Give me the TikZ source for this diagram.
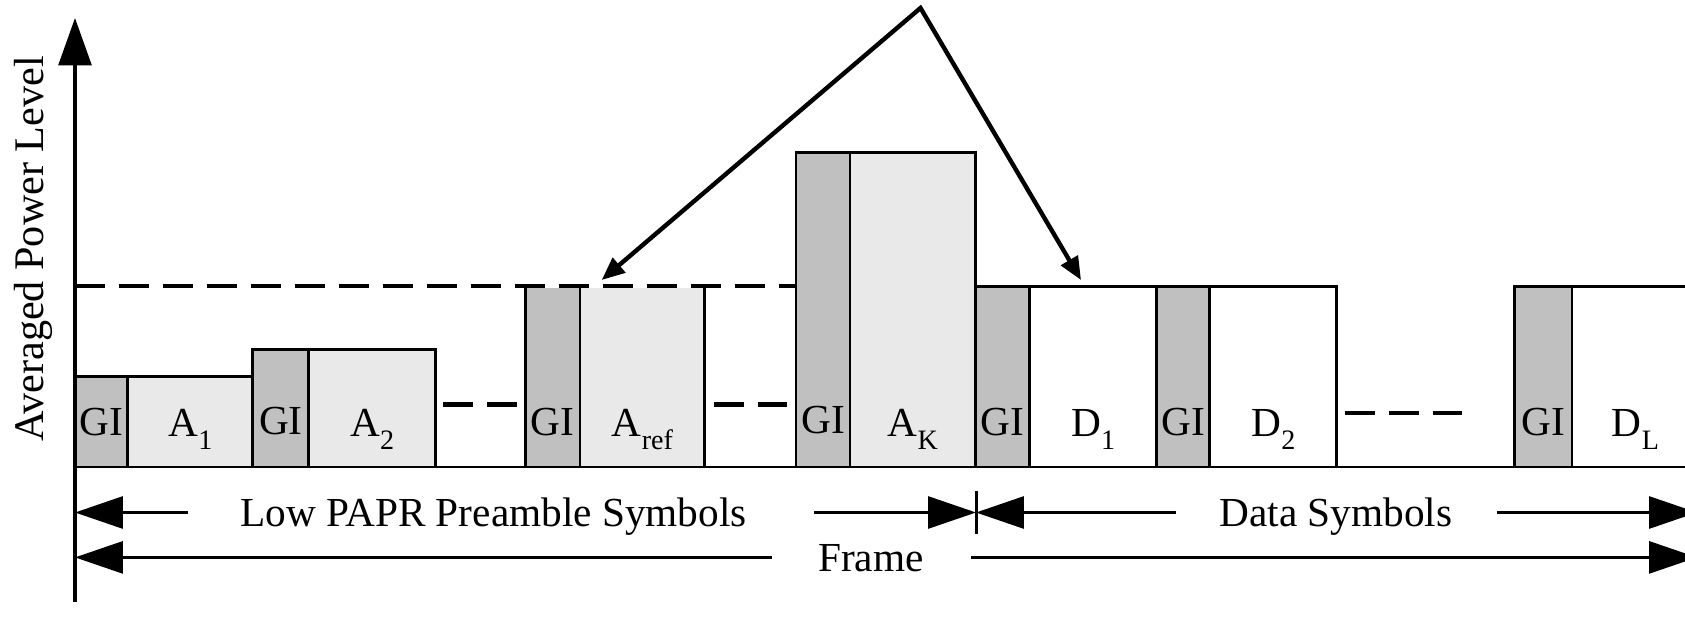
\documentclass[tikz,border=0pt]{standalone}
\usepackage{fontspec}
\setmainfont{Liberation Serif}
\usetikzlibrary{arrows.meta,calc}
\definecolor{GuardGray}{RGB}{192,192,192}
\definecolor{PreambleFill}{RGB}{233,233,233}
\newcommand{\symlbl}[2]{#1\raisebox{-7.5pt}{\fontsize{16}{19}\selectfont #2}}

\begin{document}
\begin{tikzpicture}[x=0.02cm,y=0.02cm,
    font=\fontsize{23.5}{28}\selectfont,
    blk/.style={draw,line width=1.7pt,anchor=south west,inner sep=0pt,outer sep=0pt,minimum height=#1},
    gi/.style={blk=#1,fill=GuardGray},
    pre/.style={blk=#1,fill=PreambleFill},
    dat/.style={blk=#1,fill=white},
    lbl/.style={anchor=base,inner sep=0pt},
    dimtext/.style={inner sep=0pt,text height=18pt,text depth=1.6pt},
    dimarrow/.style={line width=1.7pt,-{Triangle[length=0.96cm,width=0.64cm]}},
    gapdash/.style={line width=2.4pt,dash pattern=on 0.6cm off 0.28cm},
    callout/.style={line width=2.5pt,line join=miter,{Triangle[length=0.46cm,width=0.38cm]}-{Triangle[length=0.46cm,width=0.38cm]}}]
  \useasboundingbox (0,0) rectangle (1685,623);
  \clip (0,0) rectangle (1685,623);

  \node[gi=1.808cm,minimum width=1.06cm] (gi1) at (75,156) {};
  \node[pre=1.808cm,minimum width=2.5cm] (preA1) at (gi1.south east) {};
  \node[gi=2.348cm,minimum width=1.12cm] (gi2) at (preA1.south east) {};
  \node[pre=2.348cm,minimum width=2.53cm] (preA2) at (gi2.south east) {};
  \node[gi=3.62cm,minimum width=1.09cm] (gi3) at (525.5,156) {};
  \node[pre=3.62cm,minimum width=2.5cm] (preRef) at (gi3.south east) {};
  \node[gi=6.296cm,minimum width=1.08cm] (gi4) at (796,156) {};
  \node[pre=6.296cm,minimum width=2.52cm] (preK) at (gi4.south east) {};
  \node[gi=3.62cm,minimum width=1.07cm] (gi5) at (preK.south east) {};
  \node[dat=3.62cm,minimum width=2.55cm] (datD1) at (gi5.south east) {};
  \node[gi=3.62cm,minimum width=1.06cm] (gi6) at (datD1.south east) {};
  \node[dat=3.62cm,minimum width=2.54cm] (datD2) at (gi6.south east) {};
  \node[gi=3.62cm,minimum width=1.16cm] (gi7) at (1514,156) {};
  \node[dat=3.62cm,minimum width=2.54cm] (datDL) at (gi7.south east) {};

  \draw[line width=1.7pt] (gi1.south west) -- (datDL.south east);

  \coordinate (highL) at (75,337);
  \draw[white,line width=2.8pt] (gi3.north west) -- (preRef.north east);
  \draw[gapdash] (highL) -- (gi4.north west |- highL);
  \draw[gapdash] ($(preA2.south east)+(7.5,62.6)$) -- ($(gi3.south west)+(-8.5,62.6)$);
  \draw[gapdash] ($(preRef.south east)+(9,62.6)$) -- ($(gi4.south west)+(-9,62.6)$);
  \draw[gapdash] ($(datD2.south east)+(8,53.8)$) -- ($(gi7.south west)+(-52,53.8)$);

  \node[lbl] (tGI1) at ($(gi1.south)+(0,32)$) {GI};
  \node[lbl] (tA1) at ($(preA1.south)+(0,31)$) {\symlbl{A}{1}};
  \node[lbl] (tGI2) at ($(gi2.south)+(0,33)$) {GI};
  \node[lbl] (tA2) at ($(preA2.south)+(0,31)$) {\symlbl{A}{2}};
  \node[lbl] (tGI3) at ($(gi3.south)+(0,32)$) {GI};
  \node[lbl] (tRef) at ($(preRef.south)+(0,31)$) {\symlbl{A}{ref}};
  \node[lbl] (tGI4) at ($(gi4.south)+(0,34)$) {GI};
  \node[lbl] (tK) at ($(preK.south)+(0,31)$) {\symlbl{A}{K}};
  \node[lbl] (tGI5) at ($(gi5.south)+(0,32)$) {GI};
  \node[lbl] (tD1) at ($(datD1.south)+(0,31)$) {\symlbl{D}{1}};
  \node[lbl] (tGI6) at ($(gi6.south)+(0,32)$) {GI};
  \node[lbl] (tD2) at ($(datD2.south)+(0,31)$) {\symlbl{D}{2}};
  \node[lbl] (tGI7) at ($(gi7.south)+(0,32)$) {GI};
  \node[lbl] (tDL) at ($(datDL.south)+(0,31)$) {\symlbl{D}{L}};

  \coordinate (axisBot) at (75,21);
  \coordinate (axisTop) at (75,605);
  \draw[line width=1.8pt,-{Triangle[length=0.95cm,width=0.66cm]}] (axisBot) -- (axisTop);
  \node[rotate=90,anchor=base,font=\fontsize{24}{28}\selectfont] (ylabel) at (43,374) {Averaged Power Level};

  \coordinate (preStart) at (75,110.5);
  \coordinate (split) at (976,110.5);
  \coordinate (datEnd) at (1697,110.5);
  \coordinate (frameStart) at (75,65.6);
  \coordinate (frameEnd) at (1697,65.6);
  \node[dimtext] (preTxt) at (493.5,110.5) {Low PAPR Preamble Symbols};
  \node[dimtext] (datTxt) at (1336,110.5) {Data Symbols};
  \node[dimtext] (frameTxt) at (871,65.6) {Frame};
  \draw[dimarrow] ($(preTxt.west)+(-52,0)$) -- (preStart);
  \draw[dimarrow] ($(preTxt.east)+(67,0)$) -- (split);
  \draw[dimarrow] ($(datTxt.west)+(-43,0)$) -- (split);
  \draw[dimarrow] ($(datTxt.east)+(44,0)$) -- (datEnd);
  \draw[dimarrow] ($(frameTxt.west)+(-46,0)$) -- (frameStart);
  \draw[dimarrow] ($(frameTxt.east)+(47,0)$) -- (frameEnd);
  \draw[line width=1.7pt] ([yshift=0.44cm]split) -- ([yshift=-0.44cm]split);

  \coordinate (peak) at (920.5,615);
  \coordinate (hitRef) at (601.7,343);
  \coordinate (hitD1) at (1081,343);
  \draw[callout] (hitRef) -- (peak) -- (hitD1);
\end{tikzpicture}
\end{document}
